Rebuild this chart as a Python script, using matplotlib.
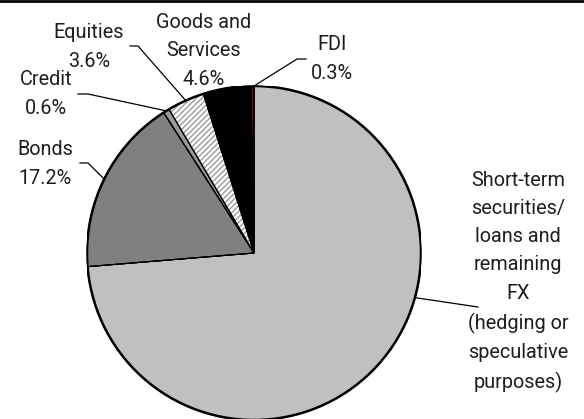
import numpy as np
import matplotlib
matplotlib.use("Agg")
import matplotlib.pyplot as plt
from matplotlib.lines import Line2D

# slice data, clockwise from 12 o'clock
categories = ["Short-term securities/ loans and remaining FX (hedging or speculative purposes)",
              "Bonds", "Credit", "Equities", "Goods and Services", "FDI"]
shares = [73.7, 17.2, 0.6, 3.6, 4.6, 0.3]
labels = ["Short-term\nsecurities/\nloans and\nremaining\nFX\n(hedging or\nspeculative\npurposes)",
          "Bonds\n17.2%", "Credit\n0.6%", "Equities\n3.6%",
          "Goods and\nServices\n4.6%", "FDI\n0.3%"]
colors = ["#c0c0c0", "#808080", "#9a9a9a", "white", "black", "#5a2020"]

W, H = 584, 419
plt.rcParams['font.family'] = ['Roboto', 'DejaVu Sans']

fig = plt.figure(figsize=(W / 100, H / 100), dpi=100)

def px(x, y):
    # pixel coords (top-left origin) -> figure fraction
    return x / W, 1 - y / H

cx, cy, r = 254, 253, 167
ax = fig.add_axes([(cx - r) / W, (H - cy - r) / H, 2 * r / W, 2 * r / H])
wedges, _ = ax.pie(shares, colors=colors, startangle=90, counterclock=False,
                   radius=1, wedgeprops=dict(edgecolor="black", linewidth=0.8))
wedges[3].set_hatch("//////")
wedges[3].set_edgecolor("#9a9a9a")
wedges[3].set_linewidth(0.6)
# black outline on the hatched slice drawn on top
outline, _ = ax.pie(shares, startangle=90, counterclock=False, radius=1,
                    wedgeprops=dict(edgecolor="black", linewidth=0.8, fill=False))
circle = plt.Circle((0, 0), 1, fill=False, edgecolor="black", linewidth=1.8)
ax.add_patch(circle)
ax.set_xlim(-1, 1)
ax.set_ylim(-1, 1)
ax.set_aspect("equal")
ax.axis("off")

# label block centres (pixels)
label_pos = [(518, 282), (45, 164), (46, 94), (89, 47), (204, 51), (332, 59)]
for lab, (x, y) in zip(labels, label_pos):
    fig.text(*px(x, y), lab, ha="center", va="center", fontsize=14.3,
             fontweight="normal", linespacing=1.62, color="#1e1e1e")

def edge_point(angle_deg):
    a = np.deg2rad(angle_deg)
    disp = ax.transData.transform((np.cos(a), np.sin(a)))
    return fig.transFigure.inverted().transform(disp)

def mid_angle(w):
    return (w.theta1 + w.theta2) / 2

# leader lines: (anchor angle on pie, elbow point, end point)
leaders = [
    (-15.5, None, (478, 307)),
    (mid_angle(wedges[1]), (88, 163), (80, 163)),
    (mid_angle(wedges[2]), (88, 94), (78, 94)),
    (mid_angle(wedges[3]), (138, 46), (130, 46)),
    (90.0, (297, 59), (306, 59)),
]
for ang, elbow, end in leaders:
    pts = [edge_point(ang)]
    if elbow is not None:
        pts.append(px(*elbow))
    pts.append(px(*end))
    xs, ys = zip(*pts)
    fig.add_artist(Line2D(xs, ys, color="black", linewidth=0.9,
                          transform=fig.transFigure))

# top rule
fig.add_artist(Line2D([0, 1], [1 - 1 / H, 1 - 1 / H], color="black",
                      linewidth=2, transform=fig.transFigure))

fig.savefig("out.png", dpi=100)
